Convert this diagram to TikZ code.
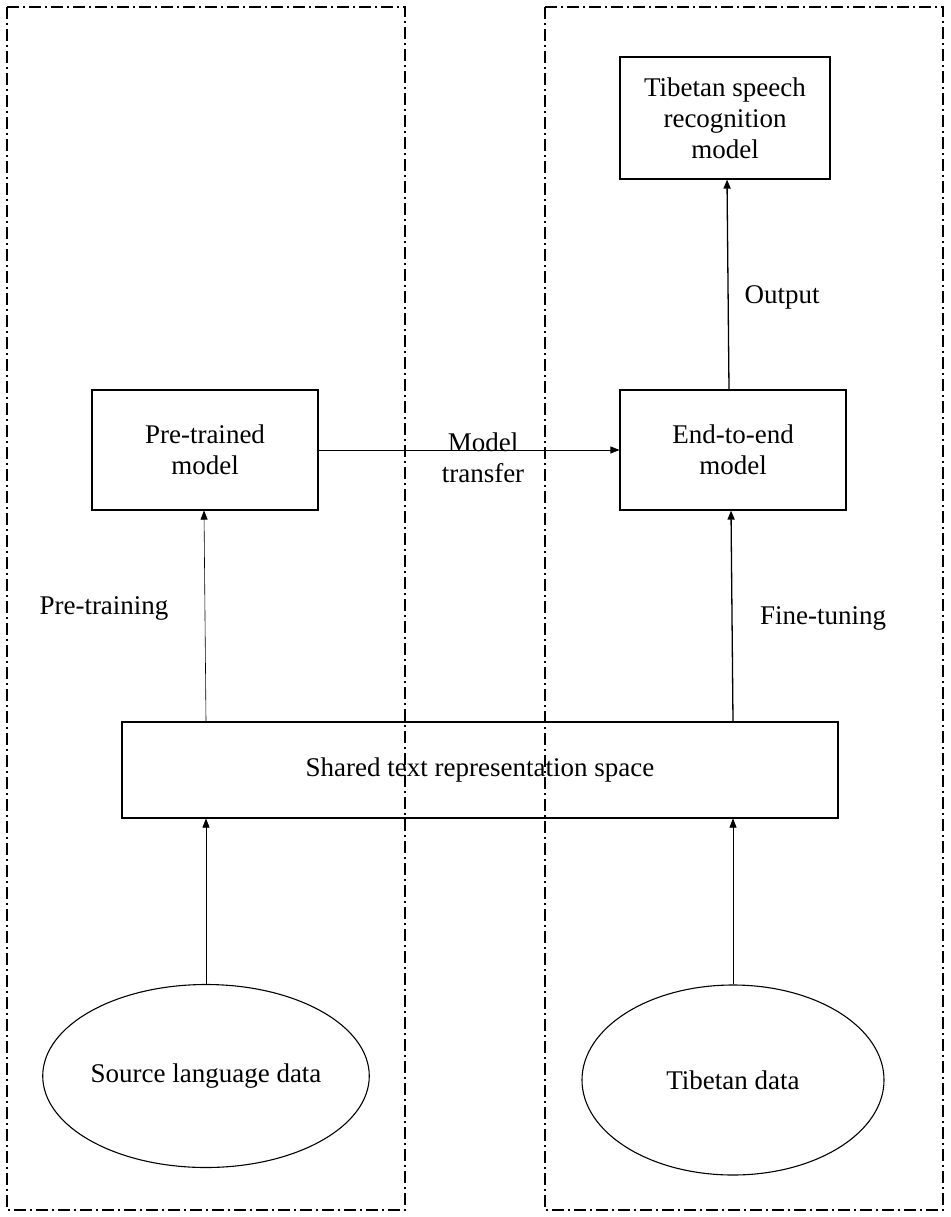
\documentclass[tikz,border=0pt]{standalone}
\usepackage{fontspec}
\setmainfont{Liberation Serif}
\usetikzlibrary{arrows.meta,shapes.geometric}
\begin{document}
\begin{tikzpicture}[x=1pt,y=-1pt,
  box/.style={draw,line width=1.1pt,align=center,font=\fontsize{27}{31}\selectfont,inner sep=0pt},
  ell/.style={draw,line width=1.1pt,ellipse,inner sep=0pt,font=\fontsize{27}{31}\selectfont},
  lbl/.style={font=\fontsize{27}{31}\selectfont,align=center},
  arr/.style={-{Triangle[length=9pt,width=7pt]},line width=0.6pt},
  frame/.style={line width=1.1pt,dash pattern=on 12pt off 4pt on 2pt off 4pt}]
\useasboundingbox (0,0) rectangle (950,1217);
\draw[frame] (7,7) rectangle (405,1210);
\draw[frame] (545,7) rectangle (943,1210);
\node[box,minimum width=210pt,minimum height=122pt] (tsr) at (725,118) {Tibetan speech\\recognition\\model};
\node[box,minimum width=226pt,minimum height=120pt] (pre) at (205,450) {Pre-trained\\model};
\node[box,minimum width=226pt,minimum height=120pt] (e2e) at (733,450) {End-to-end\\model};
\node[box,minimum width=716pt,minimum height=96pt] (sh) at (480,770) {Shared text representation space};
\node[ell,minimum width=304pt,minimum height=183pt] (src) at (206,1076) {Source language data};
\node[ell,minimum width=302pt,minimum height=190pt] (tib) at (733,1080) {Tibetan data};
\draw[arr] (src.north) -- (sh.south -| src.north);
\draw[arr] (tib.north) -- (sh.south -| tib.north);
\draw[arr] (sh.north -| 206,0) -- (pre.south -| 204,0);
\draw[arr,line width=1.3pt] (sh.north -| 733,0) -- (e2e.south -| 731,0);
\draw[arr,line width=1.3pt] (e2e.north -| 729,0) -- (tsr.south -| 727,0);
\draw[arr] (pre.east) -- (e2e.west);
\node[lbl] (l1) at (104,608) {Pre-training};
\node[lbl] (l2) at (823,618) {Fine-tuning};
\node[lbl] (l3) at (782,297) {Output};
\node[lbl] (l4) at (483,458) {Model\\transfer};
\end{tikzpicture}
\end{document}
